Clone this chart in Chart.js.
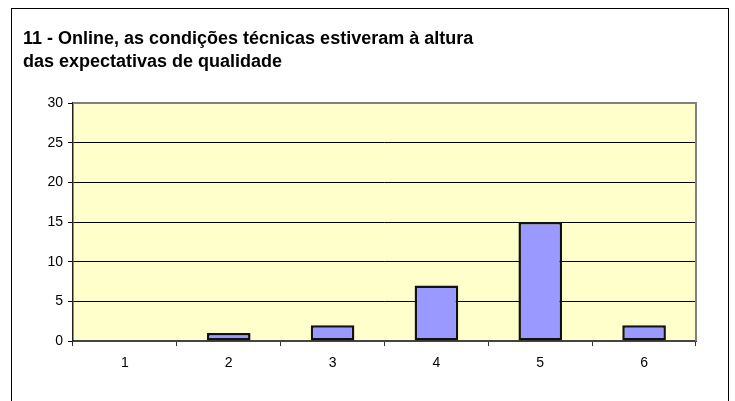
<!DOCTYPE html>
<html>
<head>
<meta charset="utf-8">
<script src="https://cdn.jsdelivr.net/npm/chart.js@4/dist/chart.umd.min.js"></script>
<style>
  html, body { margin: 0; padding: 0; background: #fff; }
  #wrap { width: 735px; height: 401px; }
</style>
</head>
<body>
<div id="wrap"><canvas id="grafico" width="735" height="401"></canvas></div>
<script>
const categorias = ['1', '2', '3', '4', '5', '6'];
const respostas = [0, 1, 2, 7, 15, 2];
const titulo = ['11 - Online, as condições técnicas estiveram à altura', 'das expectativas de qualidade'];

// fundo amarelo da área do gráfico + moldura
const moldura = {
  id: 'moldura',
  beforeDraw(chart) {
    const { ctx, chartArea: a } = chart;
    ctx.save();
    ctx.fillStyle = '#fff';
    ctx.fillRect(0, 0, chart.width, chart.height);
    ctx.fillStyle = '#FFFFCC';
    ctx.fillRect(a.left, a.top, a.right - a.left, a.bottom - a.top);
    ctx.strokeStyle = '#000';
    ctx.lineWidth = 1;
    ctx.strokeRect(11.5, 8.5, 717, 420);
    ctx.restore();
  },
  afterDatasetsDraw(chart) {
    const { ctx, chartArea: a } = chart;
    ctx.save();
    ctx.strokeStyle = '#808080';
    ctx.lineWidth = 2;
    ctx.beginPath();
    ctx.moveTo(a.left, a.top);
    ctx.lineTo(a.right, a.top);
    ctx.lineTo(a.right, a.bottom);
    ctx.stroke();
    ctx.restore();
  }
};

Chart.defaults.font.family = '"Liberation Sans", Arial, sans-serif';
Chart.defaults.color = '#000';

new Chart(document.getElementById('grafico').getContext('2d'), {
  type: 'bar',
  data: {
    labels: categorias,
    datasets: [{
      data: respostas,
      backgroundColor: '#9999FF',
      borderColor: '#111',
      borderWidth: 2.5,
      borderSkipped: false,
      categoryPercentage: 1,
      barPercentage: 0.42
    }]
  },
  options: {
    responsive: false,
    animation: false,
    layout: { padding: { left: 23, right: 39, top: 10, bottom: 30 } },
    plugins: {
      legend: { display: false },
      tooltip: { enabled: false },
      title: {
        display: true,
        text: titulo,
        align: 'start',
        color: '#000',
        font: { size: 18, weight: 'bold', lineHeight: '23px' },
        padding: { top: 17.5, bottom: 29.5 }
      }
    },
    scales: {
      x: {
        grid: { offset: true, drawOnChartArea: false, drawTicks: true, tickLength: 5, color: '#333' },
        border: { color: '#444', width: 2 },
        ticks: { font: { size: 14 }, padding: 9 },
        afterFit(s) { s.height = 30; }
      },
      y: {
        min: 0,
        max: 30,
        ticks: { stepSize: 5, font: { size: 14 }, padding: 5 },
        grid: { color: '#000', lineWidth: 1, tickLength: 5 },
        border: { color: '#222', width: 1.5 },
        afterFit(s) { s.width = 50; }
      }
    }
  },
  plugins: [moldura]
});
</script>
</body>
</html>
